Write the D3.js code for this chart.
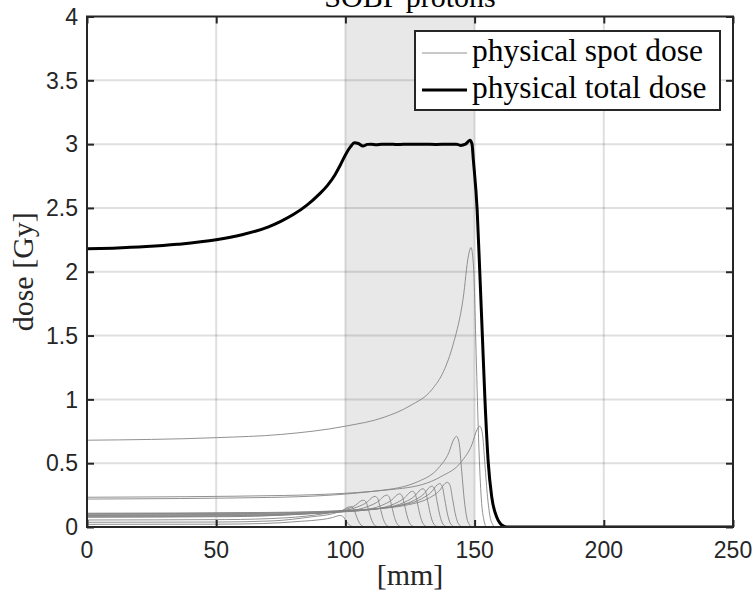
<!DOCTYPE html>
<html>
<head>
<meta charset="utf-8">
<script src="https://cdn.jsdelivr.net/npm/d3@7"></script>
<style>
  html, body { margin: 0; padding: 0; background: #fff; }
  svg { display: block; }
</style>
</head>
<body>
<svg id="chart" width="756" height="591"></svg>
<script>
// ---- data -------------------------------------------------------------
const xTicks = [0, 50, 100, 150, 200, 250];
const yTicks = [0, 0.5, 1, 1.5, 2, 2.5, 3, 3.5, 4];
const yTickLabels = ["0", "0.5", "1", "1.5", "2", "2.5", "3", "3.5", "4"];
const targetRange = [100, 150]; // shaded target region [mm]

// total physical dose, [depth mm, dose Gy]
const totalDose = [
  [0, 2.18], [10, 2.185], [23, 2.197], [35, 2.215], [50, 2.25], [60, 2.29],
  [70, 2.35], [75, 2.395], [80, 2.45], [85, 2.52], [90, 2.61], [93, 2.675],
  [96, 2.76], [98, 2.835], [100, 2.915], [102, 2.98], [103.5, 3.01], [105, 3.005],
  [106.8, 2.985], [108.5, 2.998], [110, 3.0], [112, 2.995], [114, 3.0], [117, 3.0],
  [120, 2.997], [125, 3.0], [130, 3.0], [135, 2.998], [140, 3.0], [143, 3.0],
  [144.5, 2.99], [146.5, 3.0], [148.2, 3.03], [149, 3.0], [149.5, 2.88],
  [151, 2.48], [152, 2.0], [153, 1.5], [154, 1.0], [155.3, 0.5], [156.6, 0.24],
  [158.5, 0.08], [160, 0.025], [161.5, 0.005], [163, 0], [250, 0]
];

// individual pencil-beam spot doses, [depth mm, dose Gy]
const spot01 = [[0,0.021],[49,0.022],[68,0.027],[83,0.045],[91,0.059],[95,0.074],[97,0.087],[98,0.09],[99,0.084],[100,0.056],[101,0.027],[102,0.009],[103,0.002],[104,0],[250,0]];
const spot02 = [[0,0.037],[51,0.039],[72,0.048],[87,0.08],[95,0.104],[99,0.131],[101,0.155],[102,0.16],[103,0.149],[104,0.099],[105,0.048],[106,0.016],[107,0.004],[108,0],[250,0]];
const spot03 = [[0,0.055],[53.5,0.058],[77,0.072],[92,0.105],[100,0.137],[104,0.172],[106,0.204],[107,0.21],[108,0.195],[109,0.13],[110,0.063],[111,0.021],[112,0.005],[113,0],[250,0]];
const spot04 = [[0,0.076],[55.75,0.081],[81.5,0.099],[96.5,0.12],[104.5,0.156],[108.5,0.197],[110.5,0.233],[111.5,0.24],[112.5,0.223],[113.5,0.149],[114.5,0.072],[115.5,0.024],[116.5,0.006],[117.5,0],[250,0]];
const spot05 = [[0,0.08],[58,0.085],[86,0.104],[101,0.125],[109,0.163],[113,0.205],[115,0.243],[116,0.25],[117,0.233],[118,0.155],[119,0.075],[120,0.025],[121,0.006],[122,0],[250,0]];
const spot06 = [[0,0.085],[60.5,0.09],[91,0.111],[106,0.13],[114,0.169],[118,0.213],[120,0.252],[121,0.26],[122,0.242],[123,0.161],[124,0.078],[125,0.026],[126,0.007],[127,0],[250,0]];
const spot07 = [[0,0.09],[63,0.095],[96,0.117],[111,0.14],[119,0.182],[123,0.23],[125,0.272],[126,0.28],[127,0.26],[128,0.174],[129,0.084],[130,0.028],[131,0.007],[132,0],[250,0]];
const spot08 = [[0,0.094],[65,0.1],[100,0.122],[115,0.15],[123,0.195],[127,0.246],[129,0.291],[130,0.30],[131,0.279],[132,0.186],[133,0.09],[134,0.03],[135,0.008],[136,0],[250,0]];
const spot09 = [[0,0.1],[66.75,0.106],[103.5,0.13],[118.5,0.16],[126.5,0.208],[130.5,0.262],[132.5,0.31],[133.5,0.32],[134.5,0.298],[135.5,0.198],[136.5,0.096],[137.5,0.032],[138.5,0.008],[139.5,0],[250,0]];
const spot10 = [[0,0.104],[68.25,0.11],[106.5,0.135],[121.5,0.17],[129.5,0.221],[133.5,0.279],[135.5,0.33],[136.5,0.34],[137.5,0.316],[138.5,0.211],[139.5,0.102],[140.5,0.034],[141.5,0.009],[142.5,0],[250,0]];
const spot11 = [[0,0.108],[69.75,0.114],[109.5,0.14],[124.5,0.175],[132.5,0.228],[136.5,0.287],[138.5,0.34],[139.5,0.35],[140.5,0.326],[141.5,0.217],[142.5,0.105],[143.5,0.035],[144.5,0.009],[145.5,0],[250,0]];
const spot12 = [[0,0.219],[71.5,0.232],[113,0.285],[128,0.355],[136,0.462],[140,0.582],[142,0.689],[143,0.71],[144,0.66],[145,0.44],[146,0.213],[147,0.071],[148,0.018],[149,0],[250,0]];
const spot13 = [[0,0.68],[50,0.70],[75,0.725],[100,0.79],[115,0.86],[125,0.95],[133.6,1.08],[138,1.22],[141.6,1.424],[145.6,1.796],[147.6,2.124],[148.6,2.19],[149.6,2.037],[150.6,1.358],[151.6,0.657],[152.6,0.219],[153.6,0.055],[154.6,0],[250,0]];
const spot14 = [[0,0.233],[76,0.247],[122,0.303],[137,0.395],[145,0.514],[149,0.648],[151,0.766],[152,0.79],[153,0.735],[154,0.49],[155,0.237],[156,0.079],[157,0.02],[158,0],[250,0]];

const spots = [spot01, spot02, spot03, spot04, spot05, spot06, spot07,
               spot08, spot09, spot10, spot11, spot12, spot13, spot14];

const legendLabels = ["physical spot dose", "physical total dose"];

// ---- layout -----------------------------------------------------------
const plot = { left: 87, right: 733, top: 16.5, bottom: 527 };
const axisColor = "#262626";
const serif = "'Liberation Serif', 'Times New Roman', serif";
const sans = "'Liberation Sans', Arial, Helvetica, sans-serif";

const svg = d3.select("#chart");

const x = d3.scaleLinear().domain([0, 250]).range([plot.left, plot.right]);
const y = d3.scaleLinear().domain([0, 4]).range([plot.bottom, plot.top]);

svg.append("defs").append("clipPath").attr("id", "plot-clip")
  .append("rect")
  .attr("x", plot.left).attr("y", plot.top)
  .attr("width", plot.right - plot.left).attr("height", plot.bottom - plot.top);

// shaded target region
svg.append("rect")
  .attr("x", x(targetRange[0]))
  .attr("y", plot.top)
  .attr("width", x(targetRange[1]) - x(targetRange[0]))
  .attr("height", plot.bottom - plot.top)
  .attr("fill", "#e8e8e8");

// grid
const grid = svg.append("g").attr("stroke", "rgba(38,38,38,0.15)").attr("stroke-width", 2);
grid.selectAll("line.gx").data(xTicks.slice(1, -1)).join("line")
  .attr("x1", d => x(d)).attr("x2", d => x(d))
  .attr("y1", plot.top).attr("y2", plot.bottom);
grid.selectAll("line.gy").data(yTicks.slice(1, -1)).join("line")
  .attr("x1", plot.left).attr("x2", plot.right)
  .attr("y1", d => y(d)).attr("y2", d => y(d));

// dose curves
const line = d3.line()
  .x(d => x(d[0]))
  .y(d => y(d[1]))
  .curve(d3.curveMonotoneX);

const curves = svg.append("g").attr("clip-path", "url(#plot-clip)");
curves.selectAll("path.spot").data(spots).join("path")
  .attr("class", "spot")
  .attr("d", line)
  .attr("fill", "none")
  .attr("stroke", "#858585")
  .attr("stroke-width", 0.9);

curves.append("path")
  .datum(totalDose)
  .attr("d", line)
  .attr("fill", "none")
  .attr("stroke", "#000")
  .attr("stroke-width", 3)
  .attr("stroke-linejoin", "round");

// axes box with inward ticks on all four sides
const tickLen = 7;
const axBottom = d3.axisTop(x).tickValues(xTicks).tickSize(tickLen).tickFormat("");
const axTop = d3.axisBottom(x).tickValues(xTicks).tickSize(tickLen).tickFormat("");
const axLeft = d3.axisRight(y).tickValues(yTicks).tickSize(tickLen).tickFormat("");
const axRight = d3.axisLeft(y).tickValues(yTicks).tickSize(tickLen).tickFormat("");

function styleAxis(g) {
  g.select(".domain").remove();
  g.selectAll(".tick line").attr("stroke", axisColor).attr("stroke-width", 2);
}
svg.append("g").attr("transform", `translate(0,${plot.bottom})`).call(axBottom).call(styleAxis);
svg.append("g").attr("transform", `translate(0,${plot.top})`).call(axTop).call(styleAxis);
svg.append("g").attr("transform", `translate(${plot.left},0)`).call(axLeft).call(styleAxis);
svg.append("g").attr("transform", `translate(${plot.right},0)`).call(axRight).call(styleAxis);

svg.append("rect")
  .attr("x", plot.left).attr("y", plot.top)
  .attr("width", plot.right - plot.left).attr("height", plot.bottom - plot.top)
  .attr("fill", "none").attr("stroke", axisColor).attr("stroke-width", 2);

// tick labels
svg.append("g").selectAll("text").data(xTicks).join("text")
  .attr("x", d => x(d)).attr("y", 557.5)
  .attr("text-anchor", "middle")
  .attr("font-family", sans).attr("font-size", 23).attr("fill", axisColor)
  .text(d => d);

svg.append("g").selectAll("text").data(yTicks).join("text")
  .attr("x", 78).attr("y", d => y(d))
  .attr("dy", "0.36em")
  .attr("text-anchor", "end")
  .attr("font-family", sans).attr("font-size", 23).attr("fill", axisColor)
  .text((d, i) => yTickLabels[i]);

// axis labels and title
svg.append("text")
  .attr("x", (plot.left + plot.right) / 2).attr("y", 585)
  .attr("text-anchor", "middle")
  .attr("font-family", serif).attr("font-size", 30).attr("fill", axisColor)
  .text("[mm]");

svg.append("text")
  .attr("transform", `translate(33,${(plot.top + plot.bottom) / 2}) rotate(-90)`)
  .attr("text-anchor", "middle")
  .attr("font-family", serif).attr("font-size", 30).attr("fill", axisColor)
  .text("dose [Gy]");

svg.append("text")
  .attr("x", (plot.left + plot.right) / 2).attr("y", 7)
  .attr("text-anchor", "middle")
  .attr("font-family", serif).attr("font-size", 30).attr("fill", "#000")
  .text("SOBP protons");

// legend
const legend = svg.append("g");
legend.append("rect")
  .attr("x", 415).attr("y", 31).attr("width", 305).attr("height", 79)
  .attr("fill", "#fff").attr("stroke", axisColor).attr("stroke-width", 2);

const legendStyles = [
  { stroke: "#858585", width: 0.9 },
  { stroke: "#000", width: 3 }
];
const rowY = [53, 90];
legendLabels.forEach((label, i) => {
  legend.append("line")
    .attr("x1", 422).attr("x2", 467)
    .attr("y1", rowY[i]).attr("y2", rowY[i])
    .attr("stroke", legendStyles[i].stroke)
    .attr("stroke-width", legendStyles[i].width);
  legend.append("text")
    .attr("x", 472).attr("y", rowY[i] + 8)
    .attr("font-family", serif).attr("font-size", 31.5).attr("fill", "#000")
    .text(label);
});
</script>
</body>
</html>
